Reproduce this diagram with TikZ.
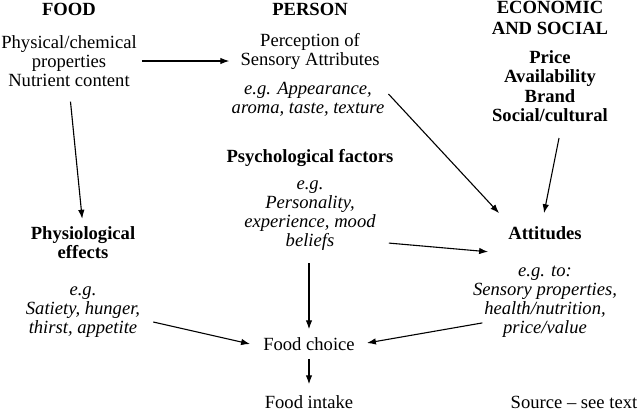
\documentclass[tikz,border=0pt]{standalone}
\usepackage{fontspec}
\setmainfont{Liberation Serif}
\usetikzlibrary{arrows.meta}
\tikzset{
  tx/.style={inner sep=0pt, align=center, font=\fontsize{18.6}{19}\selectfont},
  hd/.style={tx, font=\fontsize{18.6}{19}\selectfont\bfseries},
  it/.style={tx, font=\fontsize{18.6}{19}\selectfont\itshape},
  arr/.style={line width=1.1pt, -{Latex[length=9pt,width=6.5pt]}}
}
\begin{document}
\begin{tikzpicture}[x=1pt,y=-1pt]
\useasboundingbox (0,0) rectangle (640,413);
% headings
\node[hd] (food) at (69,9) {FOOD};
\node[hd] (person) at (310,9) {PERSON};
\node[hd, font=\fontsize{18.6}{21.5}\selectfont\bfseries] (econ) at (550,18) {ECONOMIC\\AND SOCIAL};
% food column
\node[tx] (phys) at (69,61) {Physical/chemical\\properties\\Nutrient content};
\node[hd] (physio) at (83,243) {Physiological\\effects};
\node[it] (egsat) at (83,312) {e.g.\\Satiety, hunger,\\thirst, appetite};
% person column
\node[tx] (perc) at (310,51) {Perception of\\Sensory Attributes};
\node[it] (egapp) at (308,99) {e.g. Appearance,\\aroma, taste, texture};
\node[hd] (psych) at (310,158) {Psychological factors};
\node[it] (egpers) at (310,216) {e.g.\\Personality,\\experience, mood\\beliefs};
\node[tx] (choice) at (309,344) {Food choice};
\node[tx] (intake) at (309,402) {Food intake};
% economic column
\node[hd, font=\fontsize{18.6}{19.5}\selectfont\bfseries] (price) at (550,86) {Price\\Availability\\Brand\\Social/cultural};
\node[hd] (att) at (545,233) {Attitudes};
\node[it] (egto) at (545,302) {e.g. to:\\Sensory properties,\\health/nutrition,\\price/value};
\node[tx] (src) at (574,402) {Source -- see text};
% connectors
\draw[arr, shorten <=5pt, shorten >=11pt] (phys.east) -- (phys.east -| perc.west);
\draw[arr, shorten <=15pt, shorten >=8pt] (phys.south) -- (physio.north);
\draw[arr] ([shift={(4pt,5pt)}]egapp.east) -- ([shift={(-9pt,13pt)}]att.north west);
\draw[arr] ([shift={(9pt,-16pt)}]price.south) -- ([shift={(-1pt,13pt)}]att.north);
\draw[arr] ([shift={(13pt,8pt)}]egpers.south east) -- ([shift={(-20pt,-12pt)}]att.south west);
\draw[arr, shorten <=12pt, shorten >=8pt] (choice.north |- egpers.south) -- (choice.north);
\draw[arr] ([shift={(13pt,-10pt)}]egsat.east) -- ([xshift=-13pt]choice.west);
\draw[arr] ([shift={(9.5pt,15pt)}]egto.south west) -- ([shift={(12pt,1pt)}]choice.east);
\draw[arr, shorten <=8pt, shorten >=11pt] (choice.south) -- (intake.north);
\end{tikzpicture}
\end{document}
